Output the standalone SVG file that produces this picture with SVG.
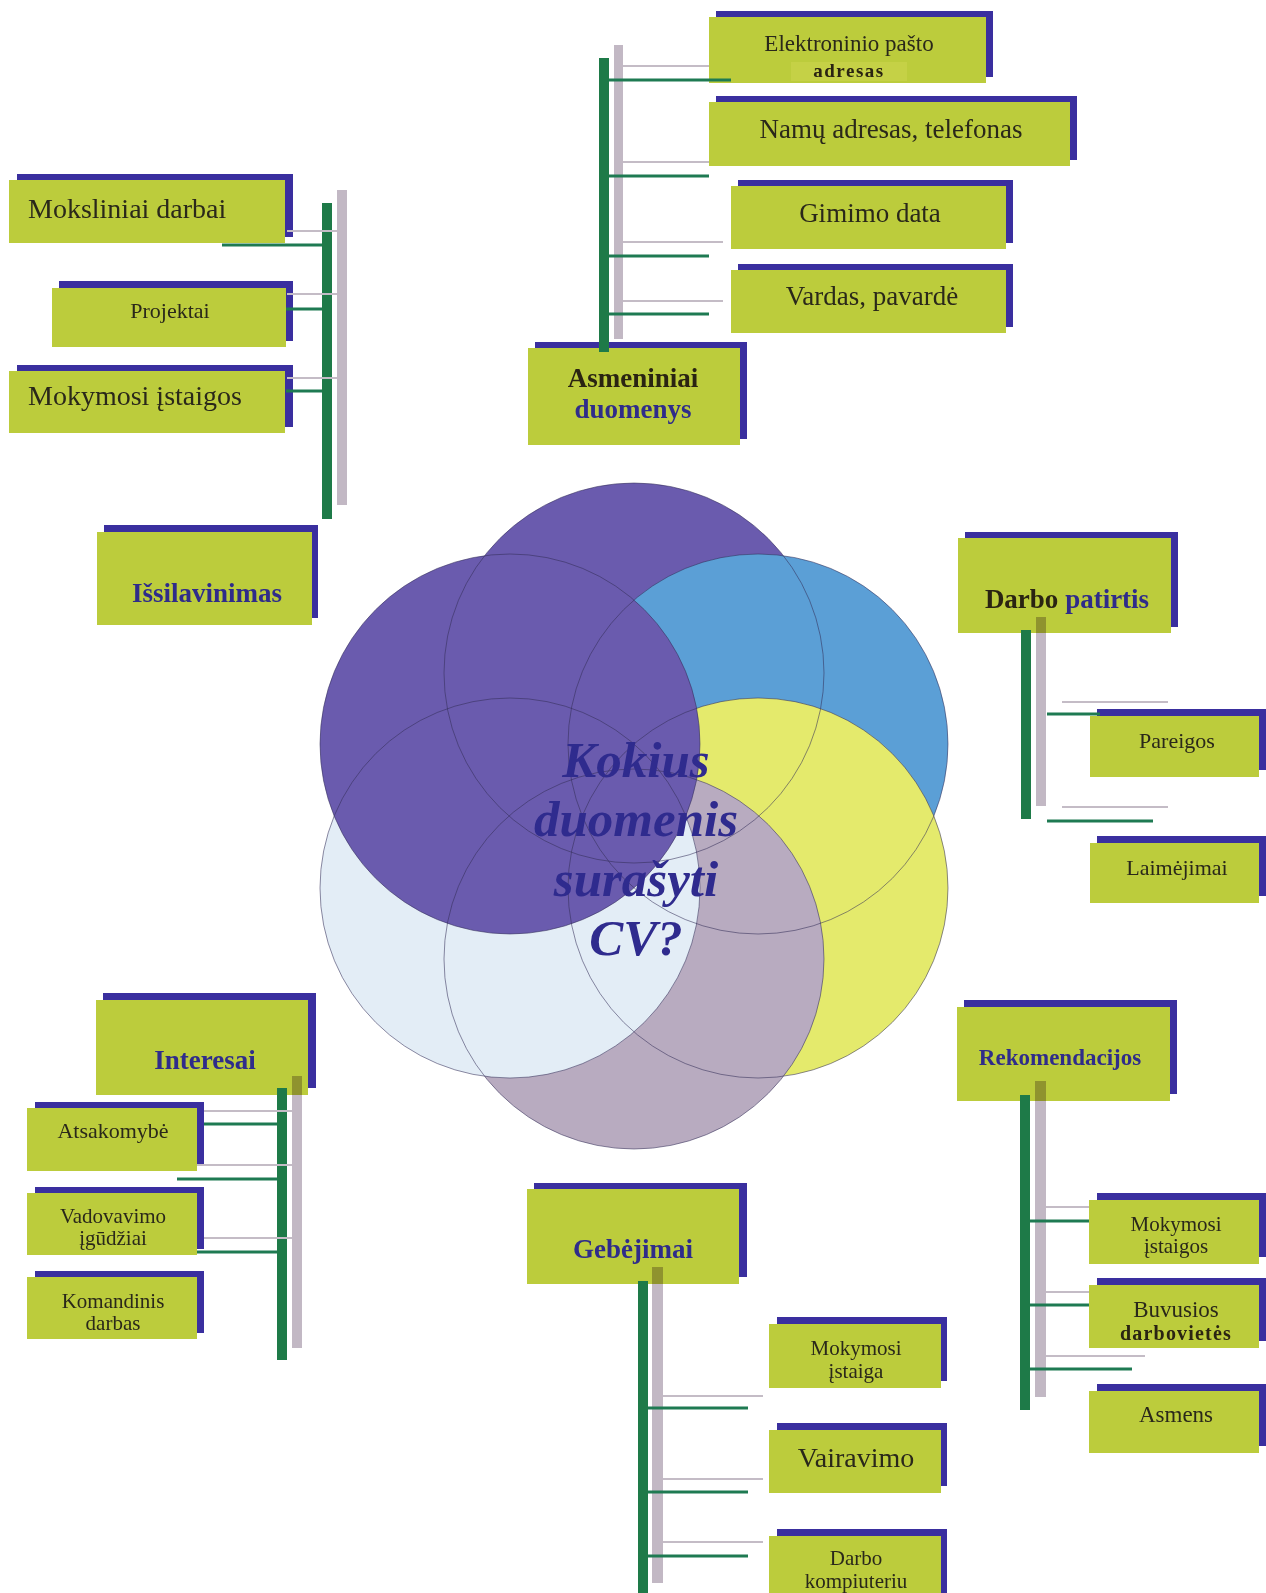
<svg xmlns="http://www.w3.org/2000/svg" width="1266" height="1593" viewBox="0 0 1266 1593">
<style>
.g{fill:#bccc3c}
.b{fill:#3a2f9f}
text{font-family:"Liberation Serif","Times New Roman",serif;fill:#2a281a}
.m{text-anchor:middle}
.h{font-weight:bold;fill:#2f2c8a}
.k{font-weight:bold;fill:#2a2412}
.q{fill:#2f2b8e;font-weight:bold;font-style:italic;font-size:51px}
.gb{fill:#1e7a48}
.gy{fill:#c2b8c4;mix-blend-mode:multiply}
.ll{stroke:#c4bcc6;stroke-width:2}
.gl{stroke:#1e7a52;stroke-width:3}
.ring{fill:none;stroke:#332e58;stroke-width:1;stroke-opacity:0.55}
</style>
<rect width="1266" height="1593" fill="#ffffff"/>

<g id="circles">
<circle cx="634" cy="673" r="190" fill="#6a5bae"/>
<circle cx="758" cy="744" r="190" fill="#5b9fd6"/>
<circle cx="758" cy="888" r="190" fill="#e4ea6c"/>
<circle cx="634" cy="959" r="190" fill="#b8abc0"/>
<circle cx="510" cy="888" r="190" fill="#e3edf6"/>
<circle cx="510" cy="744" r="190" fill="#6a5bae"/>
<circle class="ring" cx="634" cy="673" r="190"/>
<circle class="ring" cx="758" cy="744" r="190"/>
<circle class="ring" cx="758" cy="888" r="190"/>
<circle class="ring" cx="634" cy="959" r="190"/>
<circle class="ring" cx="510" cy="888" r="190"/>
<circle class="ring" cx="510" cy="744" r="190"/>
</g>

<g id="center-question">
<text class="m q" x="636" y="777">Kokius</text>
<text class="m q" x="636" y="836">duomenis</text>
<text class="m q" x="636" y="896">surašyti</text>
<text class="m q" x="636" y="955">CV?</text>
</g>

<!-- Asmeniniai duomenys group -->
<g id="n_email">
<rect class="b" x="716" y="11" width="277" height="66"/>
<rect class="g" x="709" y="17" width="277" height="66"/>
<rect x="791" y="62" width="116" height="19" fill="#c5d146"/>
<text class="m" x="849" y="51" font-size="23">Elektroninio pašto</text>
<text class="m k" x="849" y="77" font-size="19" letter-spacing="1.5">adresas</text>
</g>
<g id="n_address">
<rect class="b" x="716" y="96" width="361" height="64"/>
<rect class="g" x="709" y="102" width="361" height="64"/>
<text class="m" x="891" y="138" font-size="27">Namų adresas, telefonas</text>
</g>
<g id="n_birth">
<rect class="b" x="738" y="180" width="275" height="63"/>
<rect class="g" x="731" y="186" width="275" height="63"/>
<text class="m" x="870" y="222" font-size="27">Gimimo data</text>
</g>
<g id="n_name">
<rect class="b" x="738" y="264" width="275" height="63"/>
<rect class="g" x="731" y="270" width="275" height="63"/>
<text class="m" x="872" y="305" font-size="27">Vardas, pavardė</text>
</g>
<g id="n_personal">
<rect class="b" x="535" y="342" width="212" height="97"/>
<rect class="g" x="528" y="348" width="212" height="97"/>
<text class="m k" x="633" y="387" font-size="27">Asmeniniai</text>
<text class="m h" x="633" y="418" font-size="27">duomenys</text>
</g>

<!-- Išsilavinimas group -->
<g id="n_research">
<rect class="b" x="17" y="174" width="276" height="63"/>
<rect class="g" x="9" y="180" width="276" height="63"/>
<text x="28" y="218" font-size="28">Moksliniai darbai</text>
</g>
<g id="n_projects">
<rect class="b" x="59" y="281" width="234" height="60"/>
<rect class="g" x="52" y="288" width="234" height="59"/>
<text class="m" x="170" y="318" font-size="22">Projektai</text>
</g>
<g id="n_schools">
<rect class="b" x="17" y="365" width="276" height="62"/>
<rect class="g" x="9" y="371" width="276" height="62"/>
<text x="28" y="405" font-size="28">Mokymosi įstaigos</text>
</g>
<g id="n_education">
<rect class="b" x="104" y="525" width="214" height="93"/>
<rect class="g" x="97" y="532" width="215" height="93"/>
<text class="m h" x="207" y="602" font-size="27">Išsilavinimas</text>
</g>

<!-- Darbo patirtis group -->
<g id="n_work">
<rect class="b" x="965" y="532" width="213" height="95"/>
<rect class="g" x="958" y="538" width="213" height="95"/>
<text class="m" x="1067" y="608" font-size="27" font-weight="bold"><tspan class="k">Darbo </tspan><tspan class="h">patirtis</tspan></text>
</g>
<g id="n_duties">
<rect class="b" x="1097" y="709" width="169" height="61"/>
<rect class="g" x="1090" y="716" width="169" height="61"/>
<text class="m" x="1177" y="748" font-size="22">Pareigos</text>
</g>
<g id="n_achievements">
<rect class="b" x="1097" y="836" width="169" height="60"/>
<rect class="g" x="1090" y="843" width="169" height="60"/>
<text class="m" x="1177" y="875" font-size="22">Laimėjimai</text>
</g>

<!-- Interesai group -->
<g id="n_interests">
<rect class="b" x="103" y="993" width="213" height="95"/>
<rect class="g" x="96" y="1000" width="212" height="95"/>
<text class="m h" x="205" y="1069" font-size="27">Interesai</text>
</g>
<g id="n_responsibility">
<rect class="b" x="35" y="1102" width="169" height="63"/>
<rect class="g" x="27" y="1108" width="170" height="63"/>
<text class="m" x="113" y="1138" font-size="22">Atsakomybė</text>
</g>
<g id="n_leadership">
<rect class="b" x="35" y="1187" width="169" height="62"/>
<rect class="g" x="27" y="1193" width="170" height="62"/>
<text class="m" x="113" y="1223" font-size="21">Vadovavimo</text>
<text class="m" x="113" y="1245" font-size="21">įgūdžiai</text>
</g>
<g id="n_teamwork">
<rect class="b" x="35" y="1271" width="169" height="62"/>
<rect class="g" x="27" y="1277" width="170" height="62"/>
<text class="m" x="113" y="1308" font-size="21">Komandinis</text>
<text class="m" x="113" y="1330" font-size="21">darbas</text>
</g>

<!-- Rekomendacijos group -->
<g id="n_references">
<rect class="b" x="964" y="1000" width="213" height="94"/>
<rect class="g" x="957" y="1007" width="213" height="94"/>
<text class="m h" x="1060" y="1065" font-size="23">Rekomendacijos</text>
</g>
<g id="n_ref_schools">
<rect class="b" x="1097" y="1193" width="170" height="64"/>
<rect class="g" x="1089" y="1200" width="170" height="64"/>
<text class="m" x="1176" y="1231" font-size="21">Mokymosi</text>
<text class="m" x="1176" y="1253" font-size="21">įstaigos</text>
</g>
<g id="n_ref_work">
<rect class="b" x="1097" y="1278" width="170" height="63"/>
<rect class="g" x="1089" y="1285" width="170" height="63"/>
<text class="m" x="1176" y="1317" font-size="23">Buvusios</text>
<text class="m k" x="1176" y="1340" font-size="20" letter-spacing="1.2">darbovietės</text>
</g>
<g id="n_ref_person">
<rect class="b" x="1097" y="1384" width="170" height="62"/>
<rect class="g" x="1089" y="1391" width="170" height="62"/>
<text class="m" x="1176" y="1422" font-size="23">Asmens</text>
</g>

<!-- Gebėjimai group -->
<g id="n_skills">
<rect class="b" x="534" y="1183" width="213" height="94"/>
<rect class="g" x="527" y="1189" width="212" height="95"/>
<text class="m h" x="633" y="1258" font-size="27">Gebėjimai</text>
</g>
<g id="n_skill_school">
<rect class="b" x="777" y="1317" width="170" height="64"/>
<rect class="g" x="769" y="1324" width="172" height="64"/>
<text class="m" x="856" y="1355" font-size="21">Mokymosi</text>
<text class="m" x="856" y="1378" font-size="21">įstaiga</text>
</g>
<g id="n_driving">
<rect class="b" x="777" y="1423" width="170" height="63"/>
<rect class="g" x="769" y="1430" width="172" height="63"/>
<text class="m" x="856" y="1467" font-size="28">Vairavimo</text>
</g>
<g id="n_computer">
<rect class="b" x="777" y="1529" width="170" height="70"/>
<rect class="g" x="769" y="1536" width="172" height="70"/>
<text class="m" x="856" y="1565" font-size="21">Darbo</text>
<text class="m" x="856" y="1588" font-size="21">kompiuteriu</text>
</g>

<g id="connectors">
<!-- Asmeniniai -->
<rect class="gb" x="599" y="58" width="10" height="294"/>
<rect class="gy" x="614" y="45" width="9" height="294"/>
<line class="ll" x1="623" y1="66" x2="709" y2="66"/>
<line class="ll" x1="623" y1="162" x2="709" y2="162"/>
<line class="ll" x1="623" y1="242" x2="723" y2="242"/>
<line class="ll" x1="623" y1="301" x2="723" y2="301"/>
<line class="gl" x1="609" y1="80" x2="731" y2="80"/>
<line class="gl" x1="609" y1="176" x2="709" y2="176"/>
<line class="gl" x1="609" y1="256" x2="709" y2="256"/>
<line class="gl" x1="609" y1="314" x2="709" y2="314"/>
<!-- Išsilavinimas -->
<rect class="gb" x="322" y="203" width="10" height="316"/>
<rect class="gy" x="337" y="190" width="10" height="315"/>
<line class="ll" x1="287" y1="231" x2="337" y2="231"/>
<line class="ll" x1="287" y1="294" x2="337" y2="294"/>
<line class="ll" x1="287" y1="378" x2="337" y2="378"/>
<line class="gl" x1="222" y1="245" x2="322" y2="245"/>
<line class="gl" x1="286" y1="309" x2="322" y2="309"/>
<line class="gl" x1="286" y1="391" x2="322" y2="391"/>
<!-- Darbo patirtis -->
<rect class="gb" x="1021" y="630" width="10" height="189"/>
<rect class="gy" x="1036" y="617" width="10" height="189"/>
<line class="ll" x1="1062" y1="702" x2="1168" y2="702"/>
<line class="ll" x1="1062" y1="807" x2="1168" y2="807"/>
<line class="gl" x1="1047" y1="714" x2="1100" y2="714"/>
<line class="gl" x1="1047" y1="821" x2="1153" y2="821"/>
<!-- Interesai -->
<rect class="gb" x="277" y="1088" width="10" height="272"/>
<rect class="gy" x="292" y="1076" width="10" height="272"/>
<line class="ll" x1="204" y1="1111" x2="292" y2="1111"/>
<line class="ll" x1="197" y1="1165" x2="292" y2="1165"/>
<line class="ll" x1="204" y1="1238" x2="292" y2="1238"/>
<line class="gl" x1="204" y1="1124" x2="277" y2="1124"/>
<line class="gl" x1="177" y1="1179" x2="277" y2="1179"/>
<line class="gl" x1="197" y1="1252" x2="277" y2="1252"/>
<!-- Rekomendacijos -->
<rect class="gb" x="1020" y="1095" width="10" height="315"/>
<rect class="gy" x="1035" y="1081" width="11" height="316"/>
<line class="ll" x1="1046" y1="1207" x2="1089" y2="1207"/>
<line class="ll" x1="1046" y1="1292" x2="1089" y2="1292"/>
<line class="ll" x1="1046" y1="1356" x2="1145" y2="1356"/>
<line class="gl" x1="1030" y1="1221" x2="1089" y2="1221"/>
<line class="gl" x1="1030" y1="1305" x2="1089" y2="1305"/>
<line class="gl" x1="1030" y1="1369" x2="1132" y2="1369"/>
<!-- Gebėjimai -->
<rect class="gb" x="638" y="1281" width="10" height="320"/>
<rect class="gy" x="652" y="1267" width="11" height="316"/>
<line class="ll" x1="663" y1="1396" x2="763" y2="1396"/>
<line class="ll" x1="663" y1="1479" x2="763" y2="1479"/>
<line class="ll" x1="663" y1="1542" x2="763" y2="1542"/>
<line class="gl" x1="648" y1="1408" x2="748" y2="1408"/>
<line class="gl" x1="648" y1="1492" x2="748" y2="1492"/>
<line class="gl" x1="648" y1="1556" x2="748" y2="1556"/>
</g>
</svg>
